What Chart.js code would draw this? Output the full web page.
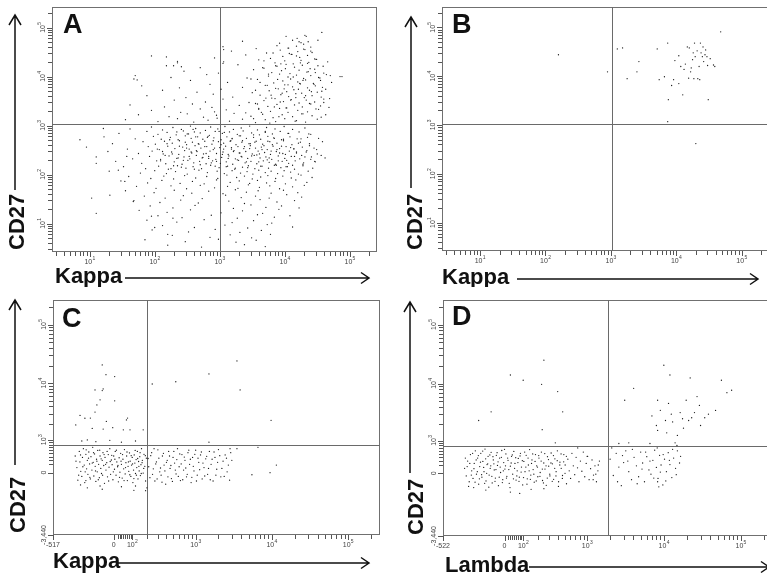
<!DOCTYPE html>
<html><head><meta charset="utf-8">
<script src="https://cdn.jsdelivr.net/npm/chart.js@4.4.1/dist/chart.umd.min.js"></script>
<style>
html,body{margin:0;padding:0;background:#fff;overflow:hidden;}
#wrap{position:relative;width:767px;height:574px;overflow:hidden;background:#fff;}
canvas{position:absolute;}
</style></head><body>
<div id="wrap">
<canvas id="cA" width="384" height="287" style="left:0;top:0"></canvas>
<canvas id="cB" width="400" height="287" style="left:384px;top:0"></canvas>
<canvas id="cC" width="384" height="287" style="left:0;top:287px"></canvas>
<canvas id="cD" width="400" height="287" style="left:384px;top:287px"></canvas>
</div>
<script>
// ---------- DATA ----------
// Panel A: [Kappa, CD27] as log10 of fluorescence intensity
const A_points_log10 = [
[1.62,2.93],[1.95,2.97],[2.12,2.91],[2.28,2.96],[2.41,2.92],[2.55,2.99],[2.63,2.94],[2.78,2.90],[2.86,2.97],[2.97,2.93],[3.08,2.98],[3.21,2.92],[3.33,2.95],[3.46,2.99],[3.58,2.91],[3.72,2.96],[3.85,2.93],[3.99,2.98],[4.12,2.92],[4.31,2.95],
[1.45,2.84],[1.88,2.88],[2.05,2.82],[2.19,2.86],[2.33,2.81],[2.44,2.89],[2.52,2.83],[2.61,2.87],[2.70,2.85],[2.84,2.80],[2.93,2.88],[3.04,2.84],[3.15,2.87],[3.27,2.82],[3.36,2.89],[3.49,2.85],[3.61,2.81],[3.70,2.86],[3.81,2.83],[3.93,2.88],[4.05,2.84],[4.22,2.87],[4.40,2.82],
[1.22,2.77],[1.70,2.73],[1.98,2.78],[2.10,2.72],[2.24,2.76],[2.36,2.71],[2.47,2.79],[2.56,2.74],[2.66,2.77],[2.74,2.72],[2.82,2.78],[2.91,2.75],[3.02,2.71],[3.11,2.77],[3.19,2.73],[3.30,2.79],[3.41,2.74],[3.52,2.76],[3.63,2.72],[3.74,2.78],[3.83,2.75],[3.95,2.71],[4.08,2.77],[4.19,2.73],[4.35,2.76],[4.52,2.74],
[1.35,2.63],[1.82,2.67],[2.01,2.62],[2.15,2.68],[2.27,2.64],[2.38,2.69],[2.49,2.61],[2.58,2.66],[2.67,2.63],[2.77,2.68],[2.88,2.62],[2.98,2.67],[3.06,2.64],[3.17,2.69],[3.25,2.61],[3.34,2.66],[3.45,2.63],[3.56,2.68],[3.66,2.62],[3.77,2.67],[3.88,2.64],[3.98,2.69],[4.11,2.61],[4.24,2.66],[4.38,2.63],[4.58,2.67],
[0.95,2.56],[1.58,2.52],[1.90,2.57],[2.07,2.51],[2.20,2.58],[2.31,2.53],[2.43,2.56],[2.53,2.52],[2.62,2.59],[2.71,2.54],[2.80,2.57],[2.90,2.51],[3.00,2.55],[3.09,2.58],[3.18,2.52],[3.28,2.57],[3.37,2.53],[3.47,2.59],[3.55,2.54],[3.64,2.56],[3.73,2.51],[3.82,2.58],[3.92,2.53],[4.02,2.57],[4.14,2.52],[4.27,2.56],[4.45,2.54],
[1.28,2.47],[1.75,2.43],[1.96,2.48],[2.13,2.42],[2.26,2.46],[2.37,2.41],[2.46,2.49],[2.57,2.44],[2.65,2.47],[2.75,2.42],[2.85,2.48],[2.95,2.43],[3.05,2.46],[3.13,2.41],[3.22,2.49],[3.31,2.44],[3.40,2.47],[3.50,2.42],[3.59,2.48],[3.69,2.45],[3.78,2.41],[3.87,2.47],[3.97,2.43],[4.07,2.48],[4.18,2.44],[4.33,2.46],[4.50,2.42],
[1.10,2.36],[1.66,2.32],[1.92,2.37],[2.09,2.31],[2.22,2.38],[2.34,2.33],[2.45,2.36],[2.54,2.32],[2.64,2.39],[2.73,2.34],[2.83,2.37],[2.94,2.31],[3.03,2.35],[3.14,2.38],[3.24,2.32],[3.33,2.37],[3.43,2.33],[3.53,2.39],[3.62,2.34],[3.71,2.36],[3.80,2.31],[3.90,2.38],[4.00,2.33],[4.10,2.37],[4.23,2.32],[4.41,2.36],[4.62,2.34],
[1.40,2.27],[1.80,2.23],[2.03,2.28],[2.17,2.22],[2.30,2.26],[2.42,2.21],[2.51,2.29],[2.60,2.24],[2.69,2.27],[2.79,2.22],[2.89,2.28],[3.01,2.23],[3.10,2.26],[3.20,2.21],[3.29,2.29],[3.39,2.24],[3.48,2.27],[3.57,2.22],[3.67,2.28],[3.76,2.25],[3.86,2.21],[3.96,2.27],[4.06,2.23],[4.16,2.28],[4.29,2.24],[4.47,2.26],
[1.52,2.16],[1.86,2.12],[2.06,2.17],[2.21,2.11],[2.35,2.18],[2.48,2.13],[2.59,2.16],[2.72,2.12],[2.86,2.19],[2.99,2.14],[3.12,2.17],[3.23,2.11],[3.35,2.15],[3.44,2.18],[3.54,2.12],[3.65,2.17],[3.75,2.13],[3.84,2.19],[3.94,2.14],[4.04,2.16],[4.15,2.11],[4.28,2.18],[4.43,2.13],
[1.30,2.07],[1.78,2.03],[2.00,2.08],[2.18,2.02],[2.32,2.06],[2.50,2.01],[2.68,2.09],[2.81,2.04],[2.96,2.07],[3.07,2.02],[3.19,2.08],[3.32,2.03],[3.42,2.06],[3.51,2.01],[3.60,2.09],[3.70,2.04],[3.79,2.07],[3.89,2.02],[3.99,2.08],[4.09,2.05],[4.21,2.01],[4.36,2.07],
[1.60,1.96],[1.94,1.92],[2.14,1.97],[2.29,1.91],[2.46,1.98],[2.63,1.93],[2.80,1.96],[2.97,1.92],[3.11,1.99],[3.26,1.94],[3.38,1.97],[3.50,1.91],[3.63,1.95],[3.74,1.98],[3.86,1.92],[3.97,1.97],[4.10,1.93],[4.25,1.99],[4.42,1.94],
[1.48,1.87],[1.89,1.83],[2.11,1.88],[2.39,1.82],[2.58,1.86],[2.76,1.81],[2.95,1.89],[3.16,1.84],[3.30,1.87],[3.46,1.82],[3.58,1.88],[3.72,1.83],[3.85,1.86],[4.01,1.81],[4.17,1.89],[4.34,1.84],
[1.72,1.76],[2.02,1.72],[2.25,1.77],[2.49,1.71],[2.70,1.78],[2.92,1.73],[3.12,1.76],[3.28,1.72],[3.44,1.79],[3.61,1.74],[3.77,1.77],[3.92,1.71],[4.12,1.75],[4.30,1.78],
[1.55,1.67],[1.99,1.63],[2.30,1.68],[2.57,1.62],[2.83,1.66],[3.05,1.61],[3.24,1.69],[3.41,1.64],[3.59,1.67],[3.79,1.62],[3.98,1.68],[4.20,1.63],
[1.84,1.56],[2.16,1.52],[2.44,1.57],[2.73,1.51],[3.09,1.58],[3.33,1.53],[3.55,1.56],[3.76,1.52],[4.03,1.59],[4.26,1.54],
[1.68,1.47],[2.08,1.43],[2.40,1.48],[2.67,1.42],[3.14,1.46],[3.38,1.41],[3.62,1.49],[3.88,1.44],[4.15,1.47],
[1.93,1.36],[2.28,1.32],[2.62,1.37],[3.21,1.31],[3.48,1.38],[3.71,1.33],[3.95,1.36],[4.22,1.32],
[1.76,1.27],[2.19,1.23],[2.55,1.28],[3.02,1.22],[3.35,1.26],[3.66,1.21],[3.91,1.29],
[2.05,1.16],[2.42,1.12],[2.87,1.17],[3.27,1.11],[3.58,1.18],[3.84,1.13],[4.08,1.16],
[1.88,1.07],[2.34,1.03],[2.76,1.08],[3.19,1.02],[3.52,1.06],[3.80,1.01],
[2.12,0.96],[2.61,0.92],[3.08,0.97],[3.43,0.91],[3.73,0.98],[4.12,0.93],
[1.96,0.87],[2.52,0.83],[2.93,0.88],[3.31,0.82],[3.64,0.86],
[2.27,0.76],[2.85,0.72],[3.16,0.77],[3.49,0.71],[3.78,0.78],
[1.85,0.67],[2.47,0.63],[2.98,0.68],[3.25,0.62],[3.56,0.66],
[2.20,0.56],[2.72,0.52],[3.38,0.57],[3.70,0.53],
[2.04,2.52],[2.16,2.39],[2.23,2.71],[2.29,2.18],[2.38,2.58],[2.44,2.29],[2.50,2.83],[2.56,2.46],[2.61,2.11],[2.68,2.62],[2.74,2.35],[2.81,2.76],[2.87,2.24],[2.92,2.54],[2.99,2.88],[3.04,2.41],[3.10,2.16],[3.16,2.68],[3.21,2.47],[3.27,2.30],
[3.32,2.79],[3.38,2.57],[3.43,2.14],[3.49,2.38],[3.54,2.66],[3.60,2.26],[3.65,2.51],[3.70,2.88],[3.76,2.34],[3.81,2.61],[3.87,2.19],[3.92,2.44],[3.98,2.72],[4.03,2.29],[4.09,2.55],[4.15,2.37],[4.21,2.64],[4.28,2.21],[4.34,2.49],[4.40,2.31],
[2.09,2.28],[2.19,2.63],[2.27,2.42],[2.34,2.87],[2.41,2.15],[2.47,2.66],[2.53,2.37],[2.59,2.92],[2.64,2.49],[2.70,2.20],[2.77,2.57],[2.83,2.33],[2.90,2.69],[2.95,2.27],[3.02,2.61],[3.07,2.86],[3.13,2.33],[3.18,2.55],[3.24,2.13],[3.30,2.44],
[3.35,2.69],[3.41,2.26],[3.46,2.53],[3.52,2.81],[3.57,2.40],[3.63,2.17],[3.68,2.59],[3.73,2.30],[3.79,2.48],[3.84,2.74],[3.90,2.28],[3.95,2.58],[4.01,2.41],[4.06,2.84],[4.12,2.19],[4.18,2.46],[4.25,2.73],[4.31,2.36],[4.38,2.59],[4.46,2.27],
[2.12,2.47],[2.25,2.12],[2.36,2.34],[2.49,2.54],[2.63,2.77],[2.79,2.43],[2.93,2.17],[3.06,2.52],[3.19,2.74],[3.34,2.36],[3.47,2.63],[3.61,2.42],[3.74,2.68],[3.88,2.51],[4.02,2.16],[4.14,2.53],[4.26,2.39],[4.37,2.83],[4.49,2.51],[4.56,2.39],
[1.55,3.12],[2.05,3.08],[2.35,3.14],[2.60,3.07],[2.82,3.11],[2.96,3.15],[3.15,3.09],[3.35,3.13],[3.55,3.06],[3.70,3.12],[3.86,3.08],[4.00,3.14],[4.18,3.10],[4.32,3.07],[4.50,3.13],
[1.75,3.22],[2.22,3.18],[2.50,3.24],[2.75,3.17],[2.95,3.21],[3.22,3.25],[3.48,3.19],[3.66,3.23],[3.82,3.16],[3.96,3.22],[4.12,3.18],[4.28,3.24],[4.42,3.20],[4.56,3.17],
[1.95,3.31],[2.40,3.27],[2.70,3.34],[2.92,3.28],[3.10,3.32],[3.40,3.26],[3.60,3.33],[3.78,3.29],[3.92,3.35],[4.05,3.27],[4.20,3.31],[4.35,3.28],[4.48,3.34],
[1.62,3.42],[2.15,3.38],[2.58,3.44],[2.88,3.37],[3.30,3.41],[3.55,3.45],[3.74,3.39],[3.88,3.43],[4.02,3.36],[4.15,3.42],[4.27,3.38],[4.40,3.44],[4.55,3.40],[4.68,3.37],
[2.30,3.52],[2.78,3.48],[3.05,3.54],[3.45,3.47],[3.68,3.51],[3.85,3.55],[3.98,3.49],[4.10,3.53],[4.22,3.46],[4.33,3.52],[4.46,3.48],[4.60,3.54],
[1.88,3.61],[2.48,3.57],[2.90,3.64],[3.20,3.58],[3.62,3.62],[3.80,3.56],[3.94,3.63],[4.06,3.59],[4.17,3.65],[4.30,3.57],[4.42,3.61],[4.56,3.58],
[2.12,3.72],[2.65,3.68],[3.02,3.74],[3.50,3.67],[3.76,3.71],[3.90,3.75],[4.03,3.69],[4.14,3.73],[4.26,3.66],[4.38,3.72],[4.50,3.68],[4.63,3.74],
[1.80,3.81],[2.38,3.77],[2.85,3.84],[3.35,3.78],[3.70,3.82],[3.86,3.76],[4.00,3.83],[4.12,3.79],[4.24,3.85],[4.35,3.77],[4.47,3.81],[4.58,3.78],
[2.55,3.92],[3.12,3.88],[3.58,3.94],[3.83,3.87],[3.97,3.91],[4.09,3.95],[4.20,3.89],[4.32,3.93],[4.44,3.86],[4.55,3.92],[4.72,3.88],
[1.70,4.02],[2.25,3.98],[2.80,4.04],[3.42,3.97],[3.75,4.01],[3.92,4.05],[4.05,3.99],[4.18,4.03],[4.29,3.96],[4.40,4.02],[4.52,3.98],[4.64,4.04],[4.85,4.00],
[2.45,4.11],[2.98,4.07],[3.52,4.14],[3.80,4.08],[3.95,4.12],[4.08,4.06],[4.22,4.13],[4.34,4.09],[4.46,4.15],[4.60,4.07],
[2.18,4.22],[2.70,4.18],[3.28,4.24],[3.68,4.17],[3.88,4.21],[4.02,4.25],[4.15,4.19],[4.27,4.23],[4.39,4.16],[4.51,4.22],
[2.35,4.31],[3.05,4.27],[3.60,4.34],[3.85,4.28],[4.00,4.32],[4.13,4.26],[4.25,4.33],[4.37,4.29],[4.49,4.35],
[1.95,4.42],[2.92,4.38],[3.40,4.44],[3.78,4.37],[3.97,4.41],[4.10,4.45],[4.23,4.39],[4.35,4.43],[4.46,4.36],
[3.18,4.52],[3.72,4.48],[3.93,4.54],[4.07,4.47],[4.20,4.51],[4.31,4.55],[4.42,4.49],
[3.05,4.61],[3.56,4.57],[3.88,4.63],[4.05,4.58],[4.18,4.62],[4.29,4.56],[4.40,4.60],
[3.35,4.72],[3.92,4.68],[4.12,4.74],[4.25,4.69],[4.36,4.71],
[4.02,4.82],[4.19,4.78],[4.31,4.84],
[4.57,4.90],[4.88,4.00],[2.18,4.40],[2.29,4.22],[2.35,4.28],[2.41,4.20],[1.68,3.95],[1.73,3.93],[3.06,4.30],[3.06,4.55],
[3.52,3.14],[3.64,3.27],[3.77,3.05],[3.91,3.18],[4.03,3.36],[4.16,3.09],[4.26,3.24],[4.38,3.45],[4.52,3.33],[4.63,3.22],
[3.58,3.44],[3.71,3.56],[3.84,3.38],[3.96,3.66],[4.09,3.52],[4.21,3.74],[4.32,3.61],[4.45,3.84],[4.57,3.70],[4.69,3.55],
[3.62,3.88],[3.75,4.05],[3.89,3.94],[4.01,4.16],[4.13,3.99],[4.24,4.28],[4.36,4.10],[4.48,4.35],[4.59,4.21],[4.70,4.02],
[3.68,4.32],[3.82,4.48],[3.94,4.26],[4.06,4.58],[4.18,4.42],[4.29,4.66],[4.40,4.52],[4.51,4.74],[4.33,4.82],[4.22,4.71],
[3.55,3.72],[3.66,4.18],[3.79,3.62],[3.93,3.48],[4.05,3.83],[4.17,3.57],[4.28,3.92],[4.41,3.69],[4.54,3.97],[4.66,4.30],
[3.48,3.95],[3.60,3.35],[3.73,3.82],[3.86,4.22],[3.99,3.75],[4.11,4.45],[4.23,3.86],[4.35,4.27],[4.47,4.08],[4.60,3.47],
[0.85,2.71],[1.03,1.52],[1.10,2.23],[1.10,1.21],[1.21,2.94],[1.31,1.58],[1.44,2.09],[1.54,1.86],[1.57,2.37],[1.67,1.45],[1.95,1.15],[2.00,0.92],[2.20,0.78],[2.28,1.11]
];
// Panel B: [Kappa, CD27] log10
const B_points_log10 = [
[2.20,4.44],[2.95,4.09],[3.10,4.56],[3.18,4.58],[3.25,3.95],[3.40,4.09],[3.43,4.30],[3.71,4.56],[3.74,3.93],[3.82,3.99],[3.87,4.68],[3.88,3.52],[3.93,3.81],[3.96,3.93],[3.87,3.07],[4.04,4.42],[4.04,3.85],[4.07,4.20],[4.10,3.62],[4.17,4.60],[4.20,4.58],[4.22,4.09],[4.23,4.17],[4.25,4.34],[4.26,4.48],[4.28,4.68],[4.33,3.95],[4.36,3.93],[4.37,4.68],[4.38,4.48],[4.40,4.40],[4.42,4.30],[4.44,4.44],[4.45,4.54],[4.47,4.40],[4.48,4.22],[4.30,2.62],[4.49,3.52],[4.57,4.23],[4.59,4.20],[4.68,4.91],[4.32,4.52],[4.14,4.25],[4.29,4.40],[4.35,4.20],[4.41,4.60],[4.52,4.36],[4.19,3.96],[4.27,3.95],[3.98,4.32],[4.12,4.14]
];
// Panel C: [Kappa, CD27] raw (biexponential display)
const C_points = [
[-245,420],[-230,120],[-222,-180],[-210,560],[-205,260],[-198,30],[-190,-90],[-185,380],[-178,650],[-172,180],[-168,-240],[-160,470],[-155,90],[-150,300],[-146,-40],[-140,540],[-135,210],[-130,-150],[-126,400],[-120,60],[-115,700],[-112,250],[-108,-80],[-104,480],[-100,150],[-96,-210],[-92,330],[-88,20],[-85,590],[-80,200],[-76,-120],[-72,420],[-68,100],[-64,-20],[-60,300],[-56,520],[-52,170],[-48,-260],[-45,380],[-40,60],[-36,240],[-32,-100],[-28,460],[-24,130],[-20,650],[-16,-40],[-12,310],[-8,190],[-4,-170],[0,420],[4,80],[8,560],[12,-60],[16,260],[20,140],[24,-220],[28,370],[32,10],[36,500],[40,200],[44,-130],[48,330],[52,90],[56,620],[60,-30],[64,240],[68,420],[72,-190],[76,150],[80,30],[84,510],[88,280],[92,-90],[96,180],[100,380],[104,-240],[108,60],[112,450],[116,230],[120,-20],[124,320],[128,120],[132,560],[136,-150],[140,270],[144,40],[148,400],[152,-70],[156,190],[160,650],[166,300],[172,-10],[178,470],[184,150],[190,-200],[196,360],
[-238,280],[-215,-60],[-200,450],[-182,140],[-165,20],[-158,610],[-142,360],[-133,-110],[-118,230],[-110,520],[-98,40],[-90,280],[-82,-170],[-74,600],[-66,340],[-58,-60],[-50,460],[-42,200],[-34,560],[-26,-200],[-18,270],[-10,440],[-2,20],[6,330],[14,600],[22,170],[30,-110],[38,280],[46,460],[54,-190],[62,120],[70,540],[78,260],[86,-50],[94,430],[102,210],[110,-140],[118,590],[126,-60],[134,350],[142,150],[150,520],[158,-20],[164,240],[176,100],[188,430],
[-150,-380],[-60,-420],[40,-350],[120,-330],[-200,-300],[200,-380],[-160,-190],[-72,-330],[110,-450],[190,-460],
[210,350],[225,-120],[240,520],[255,90],[270,-200],[285,260],[300,610],[320,20],[335,-60],[350,420],[370,180],[390,-280],[410,300],[430,560],[450,100],[470,-140],[495,380],[520,230],[545,-30],[570,650],[600,140],[625,-190],[655,460],[690,60],[720,300],[755,-100],[790,520],[830,200],[870,-240],[910,380],[950,40],[1000,600],[1050,-60],[1100,250],[1160,450],[1220,-150],[1290,120],[1360,340],[1440,-40],[1520,560],[1600,200],[1700,-200],[1800,380],[1900,80],[2000,620],[2150,-100],[2300,280],[2450,450],[2600,20],[2800,-180],[3000,300],
[215,140],[232,430],[248,-40],[262,650],[278,210],[292,-150],[310,360],[328,110],[345,-230],[362,500],[380,40],[400,250],[420,-100],[442,420],[462,170],[485,-210],[508,560],[532,60],[558,320],[585,-90],[612,480],[640,210],[672,-170],[705,390],[738,110],[772,-40],[810,600],[850,330],[890,-110],[930,150],[975,470],[1025,-200],[1075,360],[1130,70],[1190,540],[1250,230],[1320,-80],[1400,410],[1480,100],[1560,-170],[1650,330],[1750,540],[1850,-60],[1950,250],[2080,430],[2220,100],[2380,-90],[2550,360],[2700,180],[2900,520],
[-60,20500],[-40,14000],[5,13000],[-101,7700],[-60,7500],[-55,8000],[-72,5200],[5,5000],[-101,3200],[-90,4250],[-130,2520],[-204,2800],[-167,2500],[73,2520],[67,2330],[-38,2200],[-240,1900],[-5,1700],[87,1550],[-118,1650],[-55,1600],[50,1550],[172,1550],[-190,950],[-150,1000],[-96,920],[-20,980],[40,900],[120,950],
[245,9700],[540,10600],[1500,14400],[3500,24000],[3850,7700],[9800,2300],[6600,700],[1500,900],[2840,650],[3500,650],[11500,180],[9500,0],[5500,-50]
];
// Panel D: [Lambda, CD27] raw (biexponential display)
const D_points = [
[-255,120],[-240,-60],[-228,300],[-215,-200],[-205,480],[-195,60],[-185,-120],[-176,240],[-168,600],[-160,-20],[-152,380],[-145,-260],[-138,160],[-131,520],[-124,-90],[-118,290],[-111,40],[-105,660],[-99,-180],[-93,210],[-87,430],[-81,-40],[-75,120],[-70,550],[-64,-230],[-58,330],[-53,80],[-47,-110],[-42,460],[-36,190],[-31,-300],[-25,380],[-20,20],[-14,610],[-9,-150],[-4,260],[2,100],[7,500],[12,-70],[18,320],[24,-240],[30,170],[36,430],[42,-20],[48,580],[54,240],[60,-160],[66,60],[72,370],[78,-90],[84,520],[90,150],[97,-280],[104,290],[111,40],[118,460],[125,-130],[132,200],[140,640],[148,-40],[156,330],[164,90],[172,-210],[181,480],[190,180],[199,-80],[208,380],[218,20],[228,560],[238,-170],[249,250],[260,100],[272,-290],[284,420],[296,170],[309,-60],[322,530],[336,230],[350,-140],[365,360],[380,40],[396,600],[412,-200],[430,270],[448,120],[467,-50],[487,480],[508,200],[530,-250],[553,350],[577,60],[602,-120],[628,520],[655,180],[684,-30],[714,400],[746,130],[780,-200],[815,300],[852,50],[890,560],[930,-80],[972,240],[1016,430],[1062,-150],[1110,110],[1160,330],[1213,-40],[1268,180],[1325,-200],[1385,60],[1450,300],
[-248,380],[-232,160],[-220,-320],[-210,240],[-198,-40],[-188,520],[-178,110],[-170,-210],[-162,330],[-154,40],[-147,450],[-140,-130],[-133,270],[-126,-30],[-119,590],[-113,140],[-107,-240],[-101,360],[-95,0],[-89,230],[-83,-340],[-77,470],[-72,180],[-66,-70],[-60,420],[-55,230],[-49,-190],[-44,90],[-38,540],[-33,280],[-27,-90],[-22,150],[-16,400],[-11,-220],[-6,60],[0,650],[5,180],[10,-110],[16,380],[22,90],[28,-350],[34,250],[40,470],[46,-130],[52,120],[58,390],[64,-60],[70,260],[76,-190],[82,440],[88,30],[95,310],[102,-100],[109,560],[116,150],[123,-260],[130,380],[137,60],[145,-140],[153,240],[161,500],[169,-20],[178,290],[187,-180],[196,150],[206,450],[216,-70],[226,300],[236,100],[246,-230],[258,510],[270,180],[282,-110],[294,340],[307,-20],[320,250],[334,-190],[348,450],[363,120],[378,-60],[394,310],[410,-320],[428,200],[446,500],[465,-120],[485,280],[506,0],[528,430],
[-100,-420],[30,-480],[150,-400],[250,-380],[-180,-350],[80,-520],[1000,430],[1400,200],[1300,-20],[1200,-150],
[2000,350],[2200,-50],[2400,520],[2600,150],[2800,-300],[3000,260],[3200,600],[3500,40],[3800,-150],[4100,400],[4400,180],[4700,-80],[5000,560],[5300,250],[5600,-200],[6000,420],[6400,80],[6800,-20],[7200,320],[7600,620],[8000,140],[8400,-120],[8800,460],[9200,200],[9700,-280],[10200,350],[10800,40],[11400,540],[12000,210],[12700,-100],[13400,380],[14200,120],[15000,600],[16000,250],[2100,700],[2500,-200],[2900,450],[3400,300],[3900,650],[4500,-250],[5200,100],[5800,560],[6600,300],[7400,-110],[8200,700],[9000,30],[9800,480],[10600,-180],[11800,320],[13000,650],[14500,-30],[16500,430],
[3100,5200],[4050,8300],[8300,5200],[8000,1900],[8300,1550],[10500,2330],[10900,1400],[13000,2200],[15000,1250],[16300,3200],[17500,2500],[18000,1700],[21000,2330],[23000,2600],[25000,3200],[29000,4250],[30000,1900],[34000,2600],[47000,3480],[10000,20500],[12000,14000],[22000,12500],[56000,11400],[66000,7000],[76000,7700],[2600,870],[3500,900],[6600,870],[14000,900],[14800,790],[8300,-200],[8600,-330],
[9000,3500],[11500,4600],[12500,3000],[7000,2800],[19500,5200],[27000,6000],[38000,3000],
[250,25000],[30,14000],[100,11400],[230,9700],[400,7300],[-70,3300],[470,3300],[-145,2330],[235,1600],[370,900],[750,700]
];
// Quadrant gates (raw values)
const A_gate = {x:1000, y:1070};
const B_gate = {x:1050, y:1070};
const C_gate = {x:200, y:800};
const D_gate = {x:1880, y:790};
// Axis ranges / ticks
const LOG_MIN = Math.pow(10, 0.42), AXIS_MAX = 262144;
const LOG_MAJOR_EXP = ['1','2','3','4','5'];
const BIEX_X_MAJOR = [[0,'0',null],[100,'10','2'],[1000,'10','3'],[10000,'10','4'],[100000,'10','5']];
const BIEX_Y_MAJOR = [[0,'0',null],[1000,'10','3'],[10000,'10','4'],[100000,'10','5']];
const BIEX_Y_MIN = -3440, BIEX_Y_MIN_LABEL = '-3,440';
const MINOR_MULT = [2,3,4,5,6,7,8,9];

// ---------- SCALE TRANSFORMS ----------
const biexX = v => Math.asinh(v/170)/Math.LN10;
const biexY = v => Math.asinh(v/600)/Math.LN10;
const ident = v => v;

function logTicks(){
  const out=[];
  for(let d=0; d<=5; d++){
    for(let m=1;m<=9;m++){
      const v=m*Math.pow(10,d);
      if(v>=LOG_MIN && v<=AXIS_MAX) out.push(m===1 ? {v, major:true, base:'10', exp:LOG_MAJOR_EXP[d-1]} : {v, major:false});
    }
  }
  return out;
}
function biexTicks(majors, minVal, minLabel, minorDecades){
  const out=[{v:minVal, major:true, base:minLabel, exp:null}];
  majors.forEach(m=>out.push({v:m[0], major:true, base:m[1], exp:m[2]}));
  minorDecades.forEach(d=>{ MINOR_MULT.forEach(k=>{ const v=k*d; if(v<=AXIS_MAX) out.push({v, major:false}); }); });
  return out;
}

const F7 = '7px "Liberation Sans", Arial, sans-serif';
const F5 = '5px "Liberation Sans", Arial, sans-serif';
const FT = 'bold 22px "Liberation Sans", Arial, sans-serif';
const FL = 'bold 27px "Liberation Sans", Arial, sans-serif';

function drawLabel(ctx, px, baseY, t){
  ctx.textAlign='left'; ctx.textBaseline='alphabetic';
  if(t.exp){
    ctx.font=F7; const w1=ctx.measureText(t.base).width;
    ctx.font=F5; const w2=ctx.measureText(t.exp).width;
    const x0=px-(w1+w2)/2;
    ctx.font=F7; ctx.fillText(t.base, x0, baseY);
    ctx.font=F5; ctx.fillText(t.exp, x0+w1+0.3, baseY-3.6);
  } else {
    ctx.font=F7; const w=ctx.measureText(t.base).width;
    ctx.fillText(t.base, px-w/2, baseY);
  }
}

function makeOverlay(P){
  return {
    id:'ov'+P.letter,
    beforeDatasetsDraw(chart){
      const ctx=chart.ctx, a=chart.chartArea, xs=chart.scales.x, ys=chart.scales.y;
      ctx.save();
      ctx.strokeStyle='#707070'; ctx.lineWidth=1;
      ctx.strokeRect(a.left+0.5, a.top+0.5, a.right-a.left-1, a.bottom-a.top-1);
      const gx=Math.round(xs.getPixelForValue(P.tx(P.gate.x)))+0.5;
      const gy=Math.round(ys.getPixelForValue(P.ty(P.gate.y)))+0.5;
      ctx.strokeStyle='#6a6a6a';
      ctx.beginPath(); ctx.moveTo(gx,a.top); ctx.lineTo(gx,a.bottom); ctx.moveTo(a.left,gy); ctx.lineTo(a.right,gy); ctx.stroke();
      ctx.strokeStyle='#555'; ctx.fillStyle='#444';
      ctx.beginPath();
      P.xTicks.forEach(t=>{
        const px=Math.round(xs.getPixelForValue(P.tx(t.v)))+0.5;
        if(px<a.left-1||px>a.right+1) return;
        ctx.moveTo(px,a.bottom); ctx.lineTo(px,a.bottom+(t.major?5:4));
      });
      P.yTicks.forEach(t=>{
        const py=Math.round(ys.getPixelForValue(P.ty(t.v)))+0.5;
        if(py<a.top-1||py>a.bottom+1) return;
        ctx.moveTo(a.left,py); ctx.lineTo(a.left-(t.major?5:4),py);
      });
      ctx.stroke();
      P.xTicks.forEach(t=>{
        if(!t.base) return;
        const px=xs.getPixelForValue(P.tx(t.v));
        if(px<a.left-1||px>a.right+1) return;
        drawLabel(ctx, px, a.bottom+12, t);
      });
      P.yTicks.forEach(t=>{
        if(!t.base) return;
        const py=ys.getPixelForValue(P.ty(t.v));
        if(py<a.top-1||py>a.bottom+1) return;
        ctx.save(); ctx.translate(a.left-7, py); ctx.rotate(-Math.PI/2);
        drawLabel(ctx, 0, 0, t); ctx.restore();
      });
      ctx.fillStyle='#111'; ctx.font=FL; ctx.textAlign='left'; ctx.textBaseline='alphabetic';
      ctx.fillText(P.letter, P.letterPos[0], P.letterPos[1]);
      ctx.font=FT;
      ctx.fillText(P.xTitle, P.xTitlePos[0], P.xTitlePos[1]);
      ctx.save(); ctx.translate(P.yTitlePos[0], P.yTitlePos[1]); ctx.rotate(-Math.PI/2);
      ctx.fillText('CD27', 0, 0); ctx.restore();
      ctx.strokeStyle='#111'; ctx.lineWidth=1.5; ctx.lineJoin='miter';
      const [x1,x2,ya]=P.xArrow;
      ctx.beginPath(); ctx.moveTo(x1,ya); ctx.lineTo(x2,ya);
      ctx.moveTo(x2-8,ya-5.5); ctx.lineTo(x2,ya); ctx.lineTo(x2-8,ya+5.5); ctx.stroke();
      const [xa,y1,y2]=P.yArrow;
      ctx.beginPath(); ctx.moveTo(xa,y1); ctx.lineTo(xa,y2);
      ctx.moveTo(xa-6,y2+10); ctx.lineTo(xa,y2); ctx.lineTo(xa+6,y2+10); ctx.stroke();
      ctx.restore();
    }
  };
}

const LOGT = logTicks();
const PANELS = [
 {canvas:'cA', letter:'A', pts:A_points_log10, kind:'log', gate:A_gate,
  pad:{left:52,top:7,right:7,bottom:35},
  xTitle:'Kappa', xTitlePos:[55,283], xArrow:[125,369,278],
  yTitlePos:[24,250], yArrow:[15,190,15], letterPos:[63,33]},
 {canvas:'cB', letter:'B', pts:B_points_log10, kind:'log', gate:B_gate,
  pad:{left:58,top:7,right:15,bottom:36},
  xTitle:'Kappa', xTitlePos:[58,284], xArrow:[133,374,279],
  yTitlePos:[38,250], yArrow:[27,188,17], letterPos:[68,33]},
 {canvas:'cC', letter:'C', pts:C_points, kind:'biex', xMin:-517, gate:C_gate,
  pad:{left:53,top:13,right:4,bottom:39},
  xTitle:'Kappa', xTitlePos:[53,281], xArrow:[117,369,276],
  yTitlePos:[25,246], yArrow:[15,178,13], letterPos:[62,40]},
 {canvas:'cD', letter:'D', pts:D_points, kind:'biex', xMin:-522, gate:D_gate,
  pad:{left:59,top:13,right:11,bottom:38},
  xTitle:'Lambda', xTitlePos:[61,285], xArrow:[145,385,280],
  yTitlePos:[39,248], yArrow:[26,186,15], letterPos:[68,38]}
];

PANELS.forEach(P=>{
  let data, scales;
  if(P.kind==='log'){
    P.tx=ident; P.ty=ident;
    P.xTicks=LOGT; P.yTicks=LOGT;
    data=P.pts.map(p=>({x:Math.pow(10,p[0]), y:Math.pow(10,p[1])}));
    scales={x:{type:'logarithmic', min:LOG_MIN, max:AXIS_MAX, display:false},
            y:{type:'logarithmic', min:LOG_MIN, max:AXIS_MAX, display:false}};
  } else {
    P.tx=biexX; P.ty=biexY;
    P.xTicks=biexTicks(BIEX_X_MAJOR, P.xMin, String(P.xMin), [10,100,1000,10000,100000]);
    P.yTicks=biexTicks(BIEX_Y_MAJOR, BIEX_Y_MIN, BIEX_Y_MIN_LABEL, [100,1000,10000,100000]);
    data=P.pts.map(p=>({x:biexX(p[0]), y:biexY(p[1])}));
    scales={x:{type:'linear', min:biexX(P.xMin), max:biexX(AXIS_MAX), display:false},
            y:{type:'linear', min:biexY(BIEX_Y_MIN), max:biexY(AXIS_MAX), display:false}};
  }
  new Chart(document.getElementById(P.canvas), {
    type:'scatter',
    data:{datasets:[{data, backgroundColor:'#1a1a1a', pointRadius:0.65, pointHoverRadius:0, borderWidth:0}]},
    options:{responsive:false, animation:false, devicePixelRatio:1, events:[],
      layout:{padding:P.pad},
      plugins:{legend:{display:false}, tooltip:{enabled:false}},
      scales},
    plugins:[makeOverlay(P)]
  });
});
</script>
</body></html>
